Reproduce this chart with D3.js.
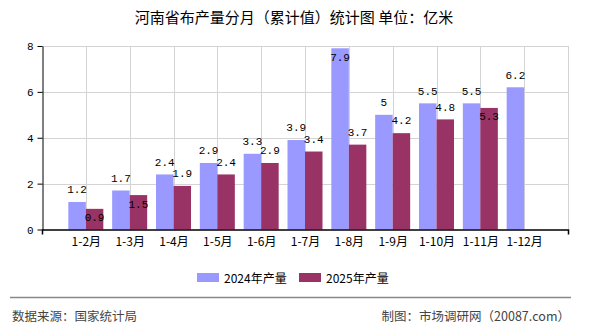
<!DOCTYPE html>
<html>
<head>
<meta charset="utf-8">
<script src="https://cdn.jsdelivr.net/npm/d3@7"></script>
<style>
  body { margin: 0; background: #fff; }
  svg { display: block; }
  .cjk { font-family: "Noto Sans CJK SC", sans-serif; }
</style>
</head>
<body>
<svg id="chart" width="590" height="330"></svg>
<script>
const months = ["1-2月", "1-3月", "1-4月", "1-5月", "1-6月", "1-7月", "1-8月", "1-9月", "1-10月", "1-11月", "1-12月"];
const series = ["2024年产量", "2025年产量"];
const values2024 = [1.2, 1.7, 2.4, 2.9, 3.3, 3.9, 7.9, 5, 5.5, 5.5, 6.2];
const values2025 = [0.9, 1.5, 1.9, 2.4, 2.9, 3.4, 3.7, 4.2, 4.8, 5.3, null];
const yTicks = [0, 2, 4, 6, 8];
const colors = ["#9999ff", "#993366"];

const svg = d3.select("#chart");
const plotLeft = 42, plotRight = 568, plotTop = 46, plotBottom = 229.5;

const x = d3.scalePoint().domain(months).range([plotLeft, plotRight]).padding(1);
const y = d3.scaleLinear().domain([0, 8]).range([plotBottom, plotTop]);
const xSub = d3.scaleBand().domain(series).range([-17.5, 17.5]);

// title
svg.append("text").attr("class", "cjk")
    .attr("x", 294).attr("y", 23).attr("text-anchor", "middle")
    .attr("font-size", 15).attr("fill", "#000")
    .text("河南省布产量分月（累计值）统计图 单位：亿米");

// grid
const grid = svg.append("g").attr("stroke", "#d4d4d4").attr("stroke-width", 1);
grid.selectAll("line.h").data(yTicks.filter(d => d > 0)).join("line")
    .attr("x1", plotLeft).attr("x2", plotRight)
    .attr("y1", d => Math.round(y(d)) + 0.5).attr("y2", d => Math.round(y(d)) + 0.5);
grid.selectAll("line.v").data(months.map(m => x(m)).concat([plotRight])).join("line")
    .attr("x1", d => Math.round(d) + 0.5).attr("x2", d => Math.round(d) + 0.5)
    .attr("y1", plotTop).attr("y2", plotBottom);

// bars
const rows = months.map((m, i) => ({ month: m, vals: [values2024[i], values2025[i]] }));
const barG = svg.append("g");
rows.forEach(r => {
    r.vals.forEach((v, k) => {
        if (v == null) return;
        barG.append("rect")
            .attr("x", x(r.month) + xSub(series[k]))
            .attr("y", y(v))
            .attr("width", xSub.bandwidth())
            .attr("height", plotBottom - y(v))
            .attr("fill", colors[k]);
    });
});

// value labels (pushed inside the bar when they would collide)
const labelG = svg.append("g").attr("font-family", "'Liberation Mono', 'DejaVu Sans Mono', monospace")
    .attr("font-size", 11).attr("fill", "#000").attr("text-anchor", "middle");
const lh = 7.5, gapAbove = 8.7, inside = 12.5;
rows.forEach(r => {
    let prevBottom = null;
    r.vals.forEach((v, k) => {
        if (v == null) return;
        const yt = y(v);
        let base = yt - gapAbove;
        if (base - lh < plotTop || (prevBottom != null && base - lh < prevBottom)) base = yt + inside;
        if (k === 0) prevBottom = base;
        labelG.append("text")
            .attr("x", x(r.month) + xSub(series[k]) + xSub.bandwidth() / 2)
            .attr("y", base)
            .text(String(v));
    });
});

// axes
const yAxis = svg.append("g").attr("transform", `translate(${plotLeft + 0.5},0)`)
    .call(d3.axisLeft(y).tickValues(yTicks).tickFormat(d3.format("d")).tickSize(5).tickSizeOuter(0).tickPadding(4));
yAxis.selectAll("text").attr("font-family", "'Liberation Mono', monospace").attr("font-size", 11).attr("fill", "#000");
yAxis.selectAll("path, line").attr("stroke", "#000");

const xAxis = svg.append("g").attr("transform", `translate(0,${plotBottom})`)
    .call(d3.axisBottom(x).tickSizeInner(0).tickSizeOuter(5).tickPadding(8));
xAxis.selectAll("text").attr("class", "cjk").attr("font-size", 12).attr("fill", "#000");
xAxis.selectAll("path").attr("stroke", "#000").attr("stroke-width", 1.5);

// legend
const legend = svg.append("g");
const legendX = [197, 299];
series.forEach((s, k) => {
    legend.append("rect").attr("x", legendX[k]).attr("y", 273).attr("width", 22).attr("height", 9).attr("fill", colors[k]);
    legend.append("text").attr("class", "cjk").attr("x", legendX[k] + 27).attr("y", 282.5)
        .attr("font-size", 12).attr("fill", "#000").text(s);
});

// footer
svg.append("line").attr("x1", 10).attr("x2", 571).attr("y1", 297.5).attr("y2", 297.5)
    .attr("stroke", "#888").attr("stroke-width", 1.5);
svg.append("text").attr("class", "cjk").attr("x", 12).attr("y", 321)
    .attr("font-size", 12.5).attr("fill", "#444").text("数据来源：国家统计局");
svg.append("text").attr("class", "cjk").attr("x", 570).attr("y", 321).attr("text-anchor", "end")
    .attr("font-size", 12.5).attr("fill", "#444").text("制图：市场调研网（20087.com）");
</script>
</body>
</html>
